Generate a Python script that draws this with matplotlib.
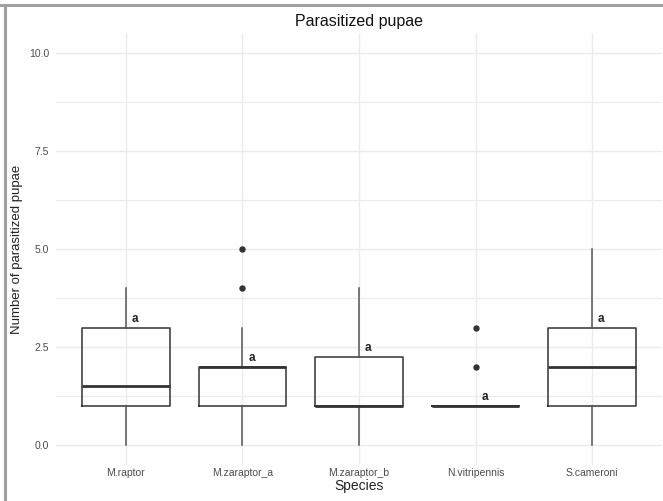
import matplotlib
matplotlib.use("Agg")
import matplotlib.pyplot as plt
from matplotlib.lines import Line2D

species = ["M.raptor", "M.zaraptor_a", "M.zaraptor_b", "N.vitripennis", "S.cameroni"]
q1 = [1, 1, 1, 1, 1]
median = [1.5, 2, 1, 1, 2]
q3 = [3, 2, 2.25, 1, 3]
whisker_low = [0, 0, 0, 1, 0]
whisker_high = [4, 3, 4, 1, 5]
outliers = [[], [4, 5], [], [2, 3], []]
letters = ["a", "a", "a", "a", "a"]
yticks = [0.0, 2.5, 5.0, 7.5, 10.0]

plt.rcParams['font.family'] = ['Liberation Sans', 'DejaVu Sans']

W, H = 663, 501
fig = plt.figure(figsize=(W / 100, H / 100), dpi=100)
fig.patch.set_facecolor("white")
left, right, top, bottom = 56, 662, 33, 465
ax = fig.add_axes([left / W, 1 - bottom / H, (right - left) / W, (bottom - top) / H])

positions = list(range(1, len(species) + 1))
stats = []
for i in range(len(species)):
    stats.append(dict(med=median[i], q1=q1[i], q3=q3[i], whislo=whisker_low[i],
                      whishi=whisker_high[i], fliers=outliers[i], label=species[i]))

ax.bxp(stats, positions=positions, widths=0.75, showcaps=False,
       boxprops=dict(color="#333333", linewidth=1.1),
       whiskerprops=dict(color="#555555", linewidth=1.1),
       medianprops=dict(color="#333333", linewidth=2.0),
       flierprops=dict(marker="o", markerfacecolor="#333333", markeredgecolor="#333333",
                       markersize=3.6),
       zorder=3)

for i, p in enumerate(positions):
    ax.text(p + 0.08, q3[i] + 0.22, letters[i], ha="center", va="center",
            fontsize=8.5, fontweight="bold", color="#222222", zorder=4)

ax.set_xlim(0.4, 5.6)
ax.set_ylim(-0.5, 10.5)
ax.set_yticks(yticks)
ax.set_yticklabels([f"{v:.1f}" for v in yticks])
ax.set_yticks([1.25, 3.75, 6.25, 8.75], minor=True)
ax.set_xticks(positions)
ax.set_xticklabels(species)
ax.grid(True, which="major", color="#ebebeb", linewidth=1.0, zorder=0)
ax.grid(True, which="minor", axis="y", color="#ebebeb", linewidth=0.8, zorder=0)
ax.set_axisbelow(True)
for s in ax.spines.values():
    s.set_visible(False)
ax.tick_params(axis="both", which="both", length=0, labelsize=7.5, labelcolor="#4d4d4d")
ax.tick_params(axis="x", pad=2)
ax.tick_params(axis="y", pad=5)

ax.set_xlabel("Species", fontsize=10, color="#222222", labelpad=1)
ax.set_ylabel("Number of parasitized pupae", fontsize=9.5, color="#222222", labelpad=4)
ax.set_title("Parasitized pupae", fontsize=11.5, color="#111111", pad=5)

# screenshot frame (top and left edges)
fig.add_artist(Line2D([0, 1], [1 - 4.5 / H, 1 - 4.5 / H], transform=fig.transFigure,
                      color="#a0a0a0", linewidth=2.2))
fig.add_artist(Line2D([4.5 / W, 4.5 / W], [0, 1 - 4.5 / H], transform=fig.transFigure,
                      color="#a0a0a0", linewidth=2.2))

fig.savefig("out.png", dpi=100, facecolor="white")
